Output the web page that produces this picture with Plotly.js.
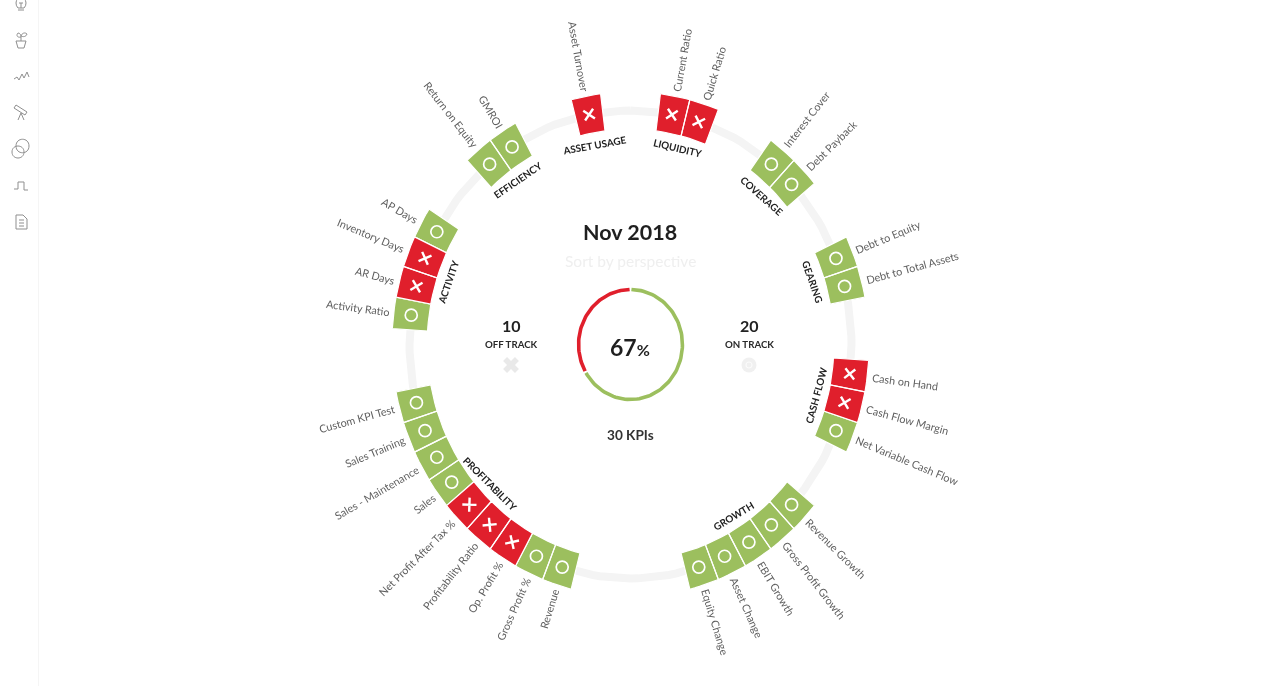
<!DOCTYPE html>
<html>
<head>
<meta charset="utf-8">
<script src="https://cdn.plot.ly/plotly-3.0.1.min.js"></script>
<style>
html,body{margin:0;padding:0;background:#fff;overflow:hidden}
#chart{width:1270px;height:686px;filter:blur(0.7px)}
</style>
</head>
<body>
<div id="chart"></div>
<script>
// ---- data ----
const kpiNames = ["Current Ratio","Quick Ratio","Interest Cover","Debt Payback","Debt to Equity","Debt to Total Assets",
  "Cash on Hand","Cash Flow Margin","Net Variable Cash Flow","Revenue Growth","Gross Profit Growth","EBIT Growth","Asset Change","Equity Change",
  "Revenue","Gross Profit %","Op. Profit %","Profitability Ratio","Net Profit After Tax %","Sales","Sales - Maintenance","Sales Training","Custom KPI Test",
  "Activity Ratio","AR Days","Inventory Days","AP Days","Return on Equity","GMROI","Asset Turnover"];
const kpiSlots = [1,2,5,6,9,10,13,14,15,18,19,20,21,22,27,28,29,30,31,32,33,34,35,38,39,40,41,44,45,48];
const kpiOnTrack = [0,0,1,1,1,1,0,0,1,1,1,1,1,1,1,1,0,0,0,1,1,1,1,1,0,0,1,1,1,0];
const kpiGroups = ["LIQUIDITY","LIQUIDITY","COVERAGE","COVERAGE","GEARING","GEARING","CASH FLOW","CASH FLOW","CASH FLOW",
  "GROWTH","GROWTH","GROWTH","GROWTH","GROWTH","PROFITABILITY","PROFITABILITY","PROFITABILITY","PROFITABILITY","PROFITABILITY",
  "PROFITABILITY","PROFITABILITY","PROFITABILITY","PROFITABILITY","ACTIVITY","ACTIVITY","ACTIVITY","ACTIVITY","EFFICIENCY","EFFICIENCY","ASSET USAGE"];
const slotCount = 50;
const onTrackCount = 20;
const offTrackCount = 10;
const kpiCount = 30;
const percentLabel = "67";
const periodLabel = "Nov 2018";

// ---- geometry and style ----
const CX = 630.5, CY = 344.5, RX = 221, RY = 234;
const GREEN = "#9cbf5e", RED = "#e01f2c", RING = "#f4f4f4";
const FONT = "Lato, 'Open Sans', sans-serif";
const STEP = 360 / slotCount;
const rad = d => d * Math.PI / 180;
const px = (r, t) => CX + RX * r * Math.sin(rad(t));
const py = (r, t) => CY - RY * r * Math.cos(rad(t));
const slotAngle = s => STEP / 2 + s * STEP;

function arc(r, from, to, n) {
  const xs = [], ys = [];
  for (let i = 0; i <= n; i++) {
    const t = from + (to - from) * i / n;
    xs.push(px(r, t)); ys.push(py(r, t));
  }
  return [xs, ys];
}
function cellPolys(flag) {
  const xs = [], ys = [];
  kpiSlots.forEach((s, i) => {
    if (kpiOnTrack[i] !== flag) return;
    const t = slotAngle(s);
    const [ox, oy] = arc(1.08, t - STEP / 2, t + STEP / 2, 6);
    const [ix, iy] = arc(0.92, t + STEP / 2, t - STEP / 2, 6);
    xs.push(...ox, ...ix, ox[0], null);
    ys.push(...oy, ...iy, oy[0], null);
  });
  return {
    x: xs, y: ys, mode: "lines", fill: "toself", fillcolor: flag ? GREEN : RED,
    line: {color: "#ffffff", width: 1.2}, hoverinfo: "skip", showlegend: false
  };
}
function glyphs(flag) {
  const idx = kpiSlots.map((s, i) => i).filter(i => kpiOnTrack[i] === flag);
  return {
    x: idx.map(i => px(1, slotAngle(kpiSlots[i]))),
    y: idx.map(i => py(1, slotAngle(kpiSlots[i]))),
    text: idx.map(i => kpiNames[i]),
    mode: "markers", hoverinfo: "text", showlegend: false,
    marker: flag
      ? {symbol: "circle-open", size: 12, color: "#fff", line: {color: "#fff", width: 1.7}}
      : {symbol: "x-thin-open", size: 10, color: "#fff", angle: idx.map(i => slotAngle(kpiSlots[i])), line: {color: "#fff", width: 2.4}}
  };
}
const [ringX, ringY] = arc(1, 0, 360, 180);
const DONUT = 0.235;
const offSweep = 360 * offTrackCount / (onTrackCount + offTrackCount);
const [gX, gY] = arc(DONUT, 1, 359 - offSweep, 90);
const [rX, rY] = arc(DONUT, 361 - offSweep, 359, 60);
const line = (x, y, color, width) => ({x, y, mode: "lines", line: {color, width}, hoverinfo: "skip", showlegend: false});

const traces = [
  line(ringX, ringY, RING, 8),
  cellPolys(1), cellPolys(0),
  glyphs(1), glyphs(0),
  line(gX, gY, GREEN, 3.6),
  line(rX, rY, RED, 3.6),
  {x: [511], y: [365], mode: "markers", hoverinfo: "skip", showlegend: false,
   marker: {symbol: "x", size: 14, color: "#e9e9e9"}},
  {x: [749, 749], y: [365, 365], mode: "markers", hoverinfo: "skip", showlegend: false,
   marker: {symbol: ["circle", "circle-open"], size: [15, 6], color: ["#e9e9e9", "#fff"], line: {color: "#fff", width: [0, 1.2]}}}
];

// ---- text ----
const ctx = document.createElement("canvas").getContext("2d");
function widthOf(text, size, weight) { ctx.font = weight + " " + size + "px Lato"; return ctx.measureText(text).width; }
function radialAngle(t) {
  return Math.atan2(-RY * Math.cos(rad(t)), RX * Math.sin(rad(t))) * 180 / Math.PI;
}
function norm90(a) { while (a > 90) a -= 180; while (a <= -90) a += 180; return a; }
const note = (text, x, y, size, color, weight, angle) => ({
  text, x, y, xref: "x", yref: "y", showarrow: false, xanchor: "center", yanchor: "middle",
  textangle: angle || 0, borderpad: 0,
  font: {family: FONT, size, color, weight: weight || 400}
});
const annotations = [];
const LABEL = 10.8;
kpiNames.forEach((name, i) => {
  const t = slotAngle(kpiSlots[i]);
  const a = radialAngle(t), w = widthOf(name, LABEL, 400);
  const d = rad(a);
  const x = px(1.10, t) + Math.cos(d) * w / 2;
  const y = py(1.10, t) + Math.sin(d) * w / 2;
  annotations.push(note(name, x, y, LABEL, "#5f5f5f", 400, norm90(a)));
});
[...new Set(kpiGroups)].forEach(g => {
  const slots = kpiSlots.filter((s, i) => kpiGroups[i] === g);
  const t = slotAngle((slots[0] + slots[slots.length - 1]) / 2);
  annotations.push(note("<b>" + g + "</b>", px(0.868, t), py(0.868, t), 9.9, "#222222", 700, norm90(radialAngle(t) + 90)));
});
annotations.push(
  note("<b>" + periodLabel + "</b>", 630, 232, 21.5, "#1f1f1f", 700),
  note("Sort by perspective", 630, 261, 15.5, "#efefef", 400),
  note("<b>" + offTrackCount + "</b>", 511, 325, 16, "#222222", 700),
  note("<b>OFF TRACK</b>", 511, 344, 9.7, "#2a2a2a", 700),
  note("<b>" + onTrackCount + "</b>", 749, 325, 16, "#222222", 700),
  note("<b>ON TRACK</b>", 749, 344, 9.7, "#2a2a2a", 700),
  note("<b>" + percentLabel + "</b><span style='font-size:16px'>%</span>", 630, 347, 23, "#1f1f1f", 700),
  note("<b>" + kpiCount + " KPIs</b>", 630, 435, 13.6, "#333333", 700)
);

// ---- sidebar icons ----
const ICON = "#8f8f8f";
const iconPaths = [
  "M16 3 C16 -4 26 -4 26 3 Q26 6 24 8 H18 Q16 6 16 3 Z M18 10 H24 M19 3 H23 M21 3 V8",
  "M16 41 H26 L24 48 H18 Z M21 41 V37 M21 37 C17 38 16 35 18 33 C20 33 21 35 21 37 M21 36 C22 33 25 32 27 34 C26 37 23 37 21 36",
  "M14 79 L17 77 L19 80 L22 74 L24 78 L27 72 L29 77",
  "M14 108 L16 105 L27 112 L25 115 Z M21 113 L18 120 M21 113 L24 120",
  "M12 152 C12 144 24 144 24 152 C24 160 12 160 12 152 Z M16 146 C16 137 29 137 29 146 C29 155 16 155 16 146 Z",
  "M14 189 H18 V182 H24 V190 H28",
  "M16 215 H23 L27 219 V229 H16 Z M19 220 H24 M19 223 H24 M19 226 H24"
];
const shapes = iconPaths.map(p => ({type: "path", xref: "x", yref: "y", path: p, line: {color: ICON, width: 1}}));
shapes.push({type: "line", xref: "x", yref: "y", x0: 38.5, x1: 38.5, y0: 0, y1: 686, line: {color: "#f5f5f5", width: 1}});

Plotly.newPlot("chart", traces, {
  width: 1270, height: 686,
  margin: {l: 0, r: 0, t: 0, b: 0, pad: 0},
  paper_bgcolor: "#ffffff", plot_bgcolor: "#ffffff",
  showlegend: false,
  font: {family: FONT},
  xaxis: {range: [0, 1270], visible: false, fixedrange: true},
  yaxis: {range: [686, 0], visible: false, fixedrange: true},
  annotations, shapes
}, {displayModeBar: false});
</script>
</body>
</html>
